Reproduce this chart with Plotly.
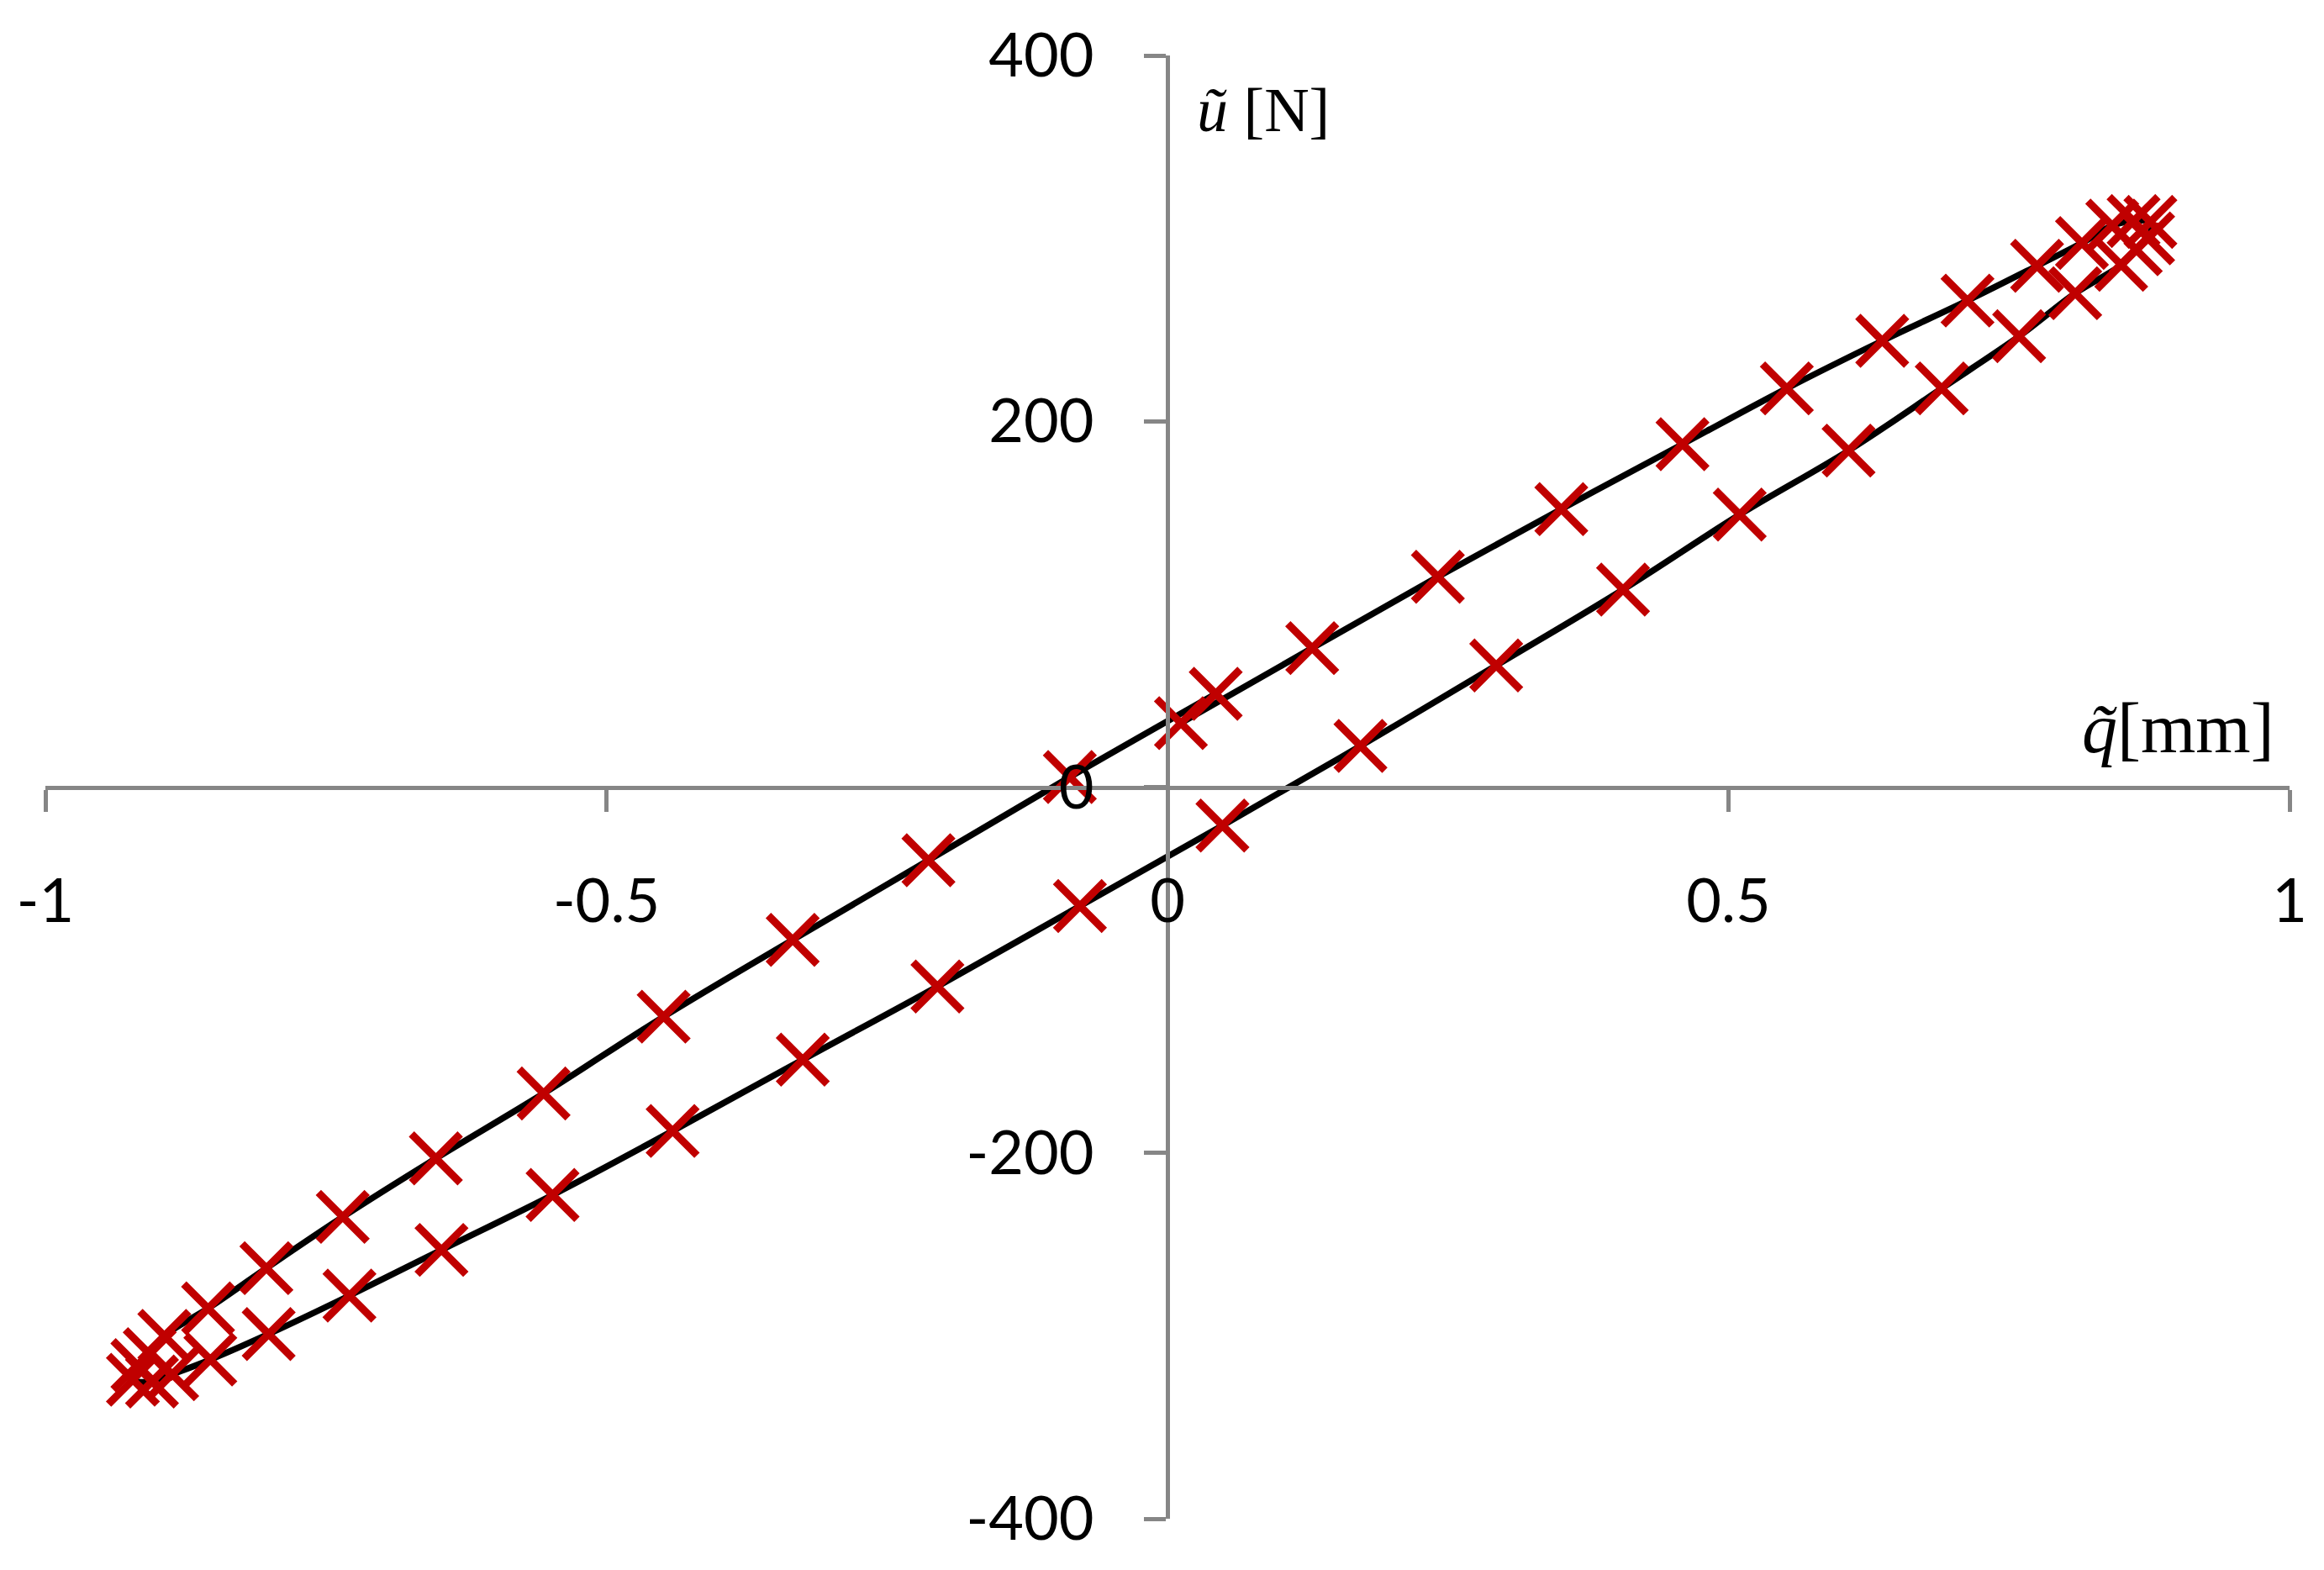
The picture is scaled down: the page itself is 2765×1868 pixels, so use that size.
import plotly.graph_objects as go

# displacement q [mm] and force u [N], read in sampling order
q_mm = [0.012, 0.129, 0.241, 0.351, 0.459, 0.552, 0.637, 0.713, 0.775, 0.815, 0.842, 0.861, 0.876,
        0.874, 0.863, 0.850, 0.809, 0.759, 0.690, 0.607, 0.510, 0.406, 0.293, 0.172, 0.049,
        -0.078, -0.205, -0.325, -0.441, -0.548, -0.647, -0.729, -0.801, -0.853, -0.887, -0.905, -0.922,
        -0.918, -0.907, -0.894, -0.855, -0.803, -0.735, -0.652, -0.556, -0.449, -0.334, -0.213, -0.087, 0.043]
u_n = [35, 76, 115, 152, 187.5, 218, 244, 266, 285, 297.5, 307, 309.5, 309,
       300, 294, 285.5, 270, 246.5, 218, 184, 149, 108, 66.5, 22.5, -21,
       -65, -109, -149, -188, -223, -253, -278, -299, -313, -321, -325, -324,
       -316, -310, -300, -285, -263, -235, -203, -167.5, -125.5, -83.5, -40, 5.5, 51]

x_ticks = [-1, -0.5, 0, 0.5, 1]
x_tick_text = ["-1", "-0.5", "0", "0.5", "1"]
y_ticks = [-400, -200, 0, 200, 400]
y_tick_text = ["-400", "-200", "0", "200", "400"]

ROJO = "#C00000"
GRIS = "#868686"

fig = go.Figure()
fig.add_trace(go.Scatter(
    x=q_mm, y=u_n,
    mode="lines+markers",
    line=dict(color="black", width=7.5, shape="spline", smoothing=1.0),
    marker=dict(symbol="x-thin", size=58, line=dict(color=ROJO, width=9), color=ROJO),
    showlegend=False,
))

eje = dict(
    showgrid=False, zeroline=False, showline=True, linecolor=GRIS, linewidth=5,
    ticks="outside", ticklen=26, tickwidth=5, tickcolor=GRIS,
    tickfont=dict(family="Lato", size=72, color="black"),
    anchor="free", position=0.5, ticklabelstandoff=45,
)

fig.update_layout(
    width=2749, height=1852,
    margin=dict(l=45, r=28, t=55, b=53),
    paper_bgcolor="white", plot_bgcolor="white",
    xaxis=dict(range=[-1, 1], tickvals=x_ticks, ticktext=x_tick_text, **eje),
    yaxis=dict(range=[-400, 400], tickvals=y_ticks, ticktext=y_tick_text, **eje),
    annotations=[
        dict(x=0.025, y=370, xref="x", yref="y", xanchor="left", yanchor="middle",
             text="<i>ũ</i> [N]", showarrow=False,
             font=dict(family="Liberation Serif", size=74, color="black")),
        dict(x=0.988, y=32, xref="x", yref="y", xanchor="right", yanchor="middle",
             text="<i>q̃</i>[mm]", showarrow=False,
             font=dict(family="Liberation Serif", size=84, color="black")),
    ],
)

fig.write_html("out.html")
